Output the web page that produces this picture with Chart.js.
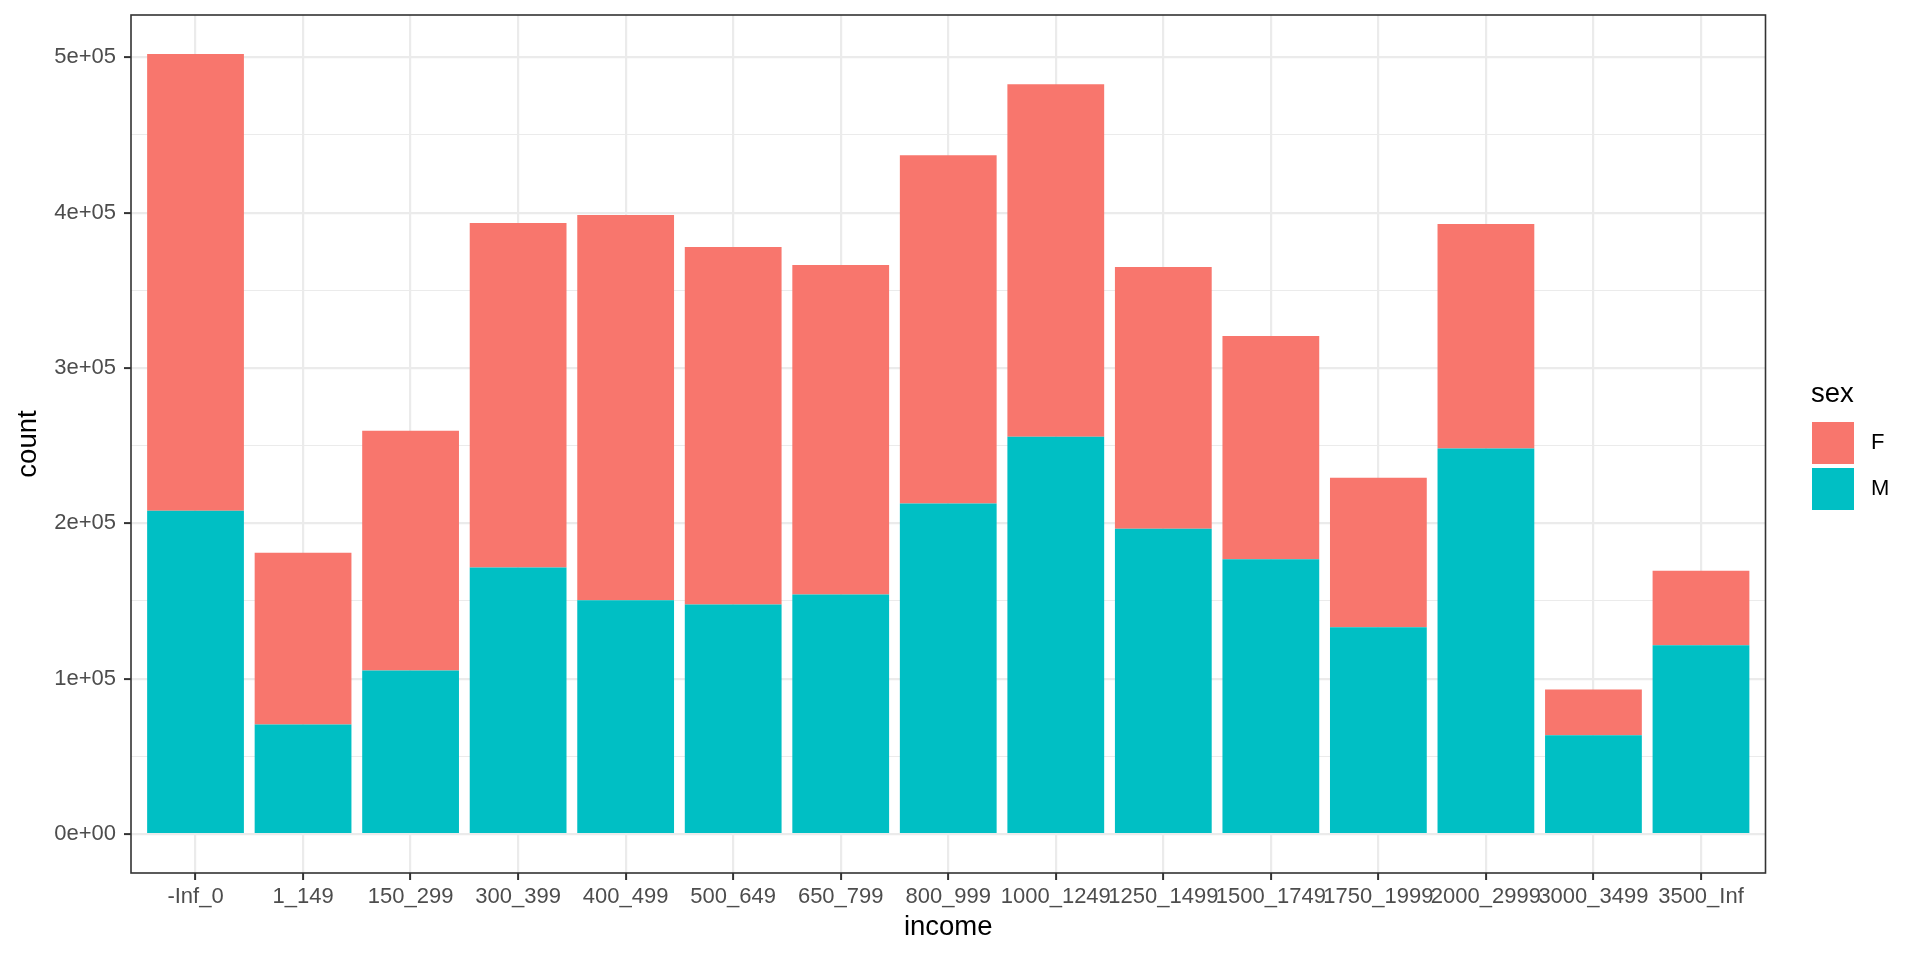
<!DOCTYPE html>
<html>
<head>
<meta charset="utf-8">
<title>income by sex</title>
<script src="https://cdn.jsdelivr.net/npm/chart.js@4.4.1/dist/chart.umd.min.js"></script>
<style>
  html, body { margin: 0; padding: 0; background: #ffffff; overflow: hidden; }
  canvas { display: block; }
</style>
</head>
<body>
<canvas id="incomeChart" width="1920" height="960"></canvas>
<script>
// income bands (x axis)
const categories = ['-Inf_0', '1_149', '150_299', '300_399', '400_499', '500_649', '650_799',
    '800_999', '1000_1249', '1250_1499', '1500_1749', '1750_1999', '2000_2999', '3000_3499', '3500_Inf'];

// counts
const femaleCounts = [294000, 110600, 154400, 221700, 248100, 230200, 212200,
    224200, 227000, 168500, 143800, 96200, 144400, 29400, 48000];
const maleCounts = [208100, 70500, 105200, 171600, 150400, 147700, 154100,
    212800, 255700, 196500, 176800, 133100, 248200, 63600, 121500];

// y axis ticks
const yTicks = [0, 100000, 200000, 300000, 400000, 500000];
const yTickLabels = ['0e+00', '1e+05', '2e+05', '3e+05', '4e+05', '5e+05'];

const colorF = '#F8766D';
const colorM = '#00BFC4';
const gridColor = '#EBEBEB';
const darkGrey = '#333333';

Chart.defaults.font.family = '"Liberation Sans", Arial, sans-serif';

// minor grid lines sit half-way between the major ticks
const yMinor = yTicks.slice(1).map((v, i) => (v + yTicks[i]) / 2);
const yAllTicks = yTicks.concat(yMinor).sort((a, b) => a - b);
const isMajor = v => yTicks.indexOf(v) >= 0;

// panel border (theme_bw) and legend on the right
const panelAndLegend = {
    id: 'panelAndLegend',
    afterDatasetsDraw(chart) {
        const { ctx, chartArea } = chart;
        ctx.save();
        ctx.strokeStyle = darkGrey;
        ctx.lineWidth = 1.6;
        ctx.strokeRect(chartArea.left, chartArea.top,
            chartArea.right - chartArea.left, chartArea.bottom - chartArea.top);
        ctx.restore();
    },
    afterDraw(chart) {
        const { ctx } = chart;
        const x0 = 1811;
        ctx.save();
        ctx.fillStyle = '#000000';
        ctx.font = '27.5px "Liberation Sans", Arial, sans-serif';
        ctx.textBaseline = 'alphabetic';
        ctx.textAlign = 'left';
        ctx.fillText('sex', x0, 402);

        // F first, then M (same order as ggplot legend)
        const items = [chart.data.datasets[1], chart.data.datasets[0]];
        ctx.font = '22px "Liberation Sans", Arial, sans-serif';
        ctx.textBaseline = 'middle';
        items.forEach((ds, i) => {
            const top = 422 + i * 46;
            ctx.fillStyle = ds.backgroundColor;
            ctx.fillRect(x0 + 1, top, 42, 42);
            ctx.fillStyle = '#000000';
            ctx.fillText(ds.label, 1871, top + 21);
        });
        ctx.restore();
    }
};

const ctx = document.getElementById('incomeChart').getContext('2d');
const incomeChart = new Chart(ctx, {
    type: 'bar',
    data: {
        datasets: [
            {
                label: 'M',
                data: maleCounts.map((v, i) => ({ x: i + 1, y: v })),
                backgroundColor: colorM,
                borderWidth: 0,
                barPercentage: 0.9,
                categoryPercentage: 1.0
            },
            {
                label: 'F',
                data: femaleCounts.map((v, i) => ({ x: i + 1, y: v })),
                backgroundColor: colorF,
                borderWidth: 0,
                barPercentage: 0.9,
                categoryPercentage: 1.0
            }
        ]
    },
    options: {
        responsive: false,
        devicePixelRatio: 1,
        animation: false,
        layout: { padding: { left: 0, top: 15, right: 154.5, bottom: 0 } },
        plugins: {
            legend: { display: false },
            tooltip: { enabled: false }
        },
        scales: {
            x: {
                type: 'linear',
                stacked: true,
                offset: false,
                min: 0.4,
                max: 15.6,
                afterBuildTicks: scale => {
                    scale.ticks = categories.map((c, i) => ({ value: i + 1 }));
                },
                afterFit: scale => {
                    scale.height = 87;
                    scale.paddingLeft = 0;
                    scale.paddingRight = 0;
                },
                border: { display: false },
                grid: {
                    offset: false,
                    color: gridColor,
                    lineWidth: 2.2,
                    tickColor: darkGrey,
                    tickWidth: 2,
                    tickLength: 7
                },
                ticks: {
                    autoSkip: false,
                    maxRotation: 0,
                    minRotation: 0,
                    padding: 4,
                    color: '#4D4D4D',
                    font: { size: 22 },
                    callback: value => categories[value - 1]
                },
                title: {
                    display: true,
                    text: 'income',
                    color: '#000000',
                    font: { size: 27.5 },
                    padding: { top: 0, bottom: 16 }
                }
            },
            y: {
                stacked: true,
                min: -25100,
                max: 527200,
                afterBuildTicks: scale => {
                    scale.ticks = yAllTicks.map(v => ({ value: v }));
                },
                afterFit: scale => {
                    scale.width = 131;
                    scale.paddingTop = 0;
                    scale.paddingBottom = 0;
                },
                border: { display: false },
                grid: {
                    color: gridColor,
                    lineWidth: c => (isMajor(c.tick.value) ? 2.2 : 1.1),
                    tickColor: c => (isMajor(c.tick.value) ? darkGrey : 'rgba(0,0,0,0)'),
                    tickWidth: 2,
                    tickLength: 7
                },
                ticks: {
                    padding: 8,
                    color: '#4D4D4D',
                    font: { size: 22 },
                    callback: value => {
                        const idx = yTicks.indexOf(value);
                        return idx >= 0 ? yTickLabels[idx] : '';
                    }
                },
                title: {
                    display: true,
                    text: 'count',
                    color: '#000000',
                    font: { size: 27.5 },
                    padding: { top: 12, bottom: 0 }
                }
            }
        }
    },
    plugins: [panelAndLegend]
});
</script>
</body>
</html>
